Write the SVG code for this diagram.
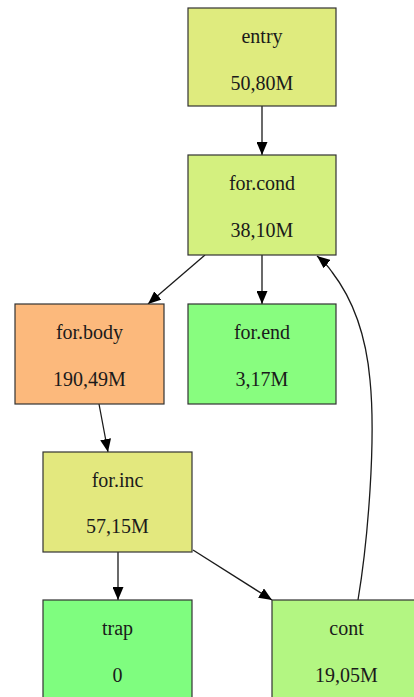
<svg xmlns="http://www.w3.org/2000/svg" width="414" height="697" viewBox="0 0 414 697">
  <style>
    .box { stroke: #333333; stroke-width: 1.2; }
    .lbl { font-family: "Liberation Serif", "Times New Roman", serif; font-size: 20px; fill: #1a1a1a; text-anchor: middle; }
    .edge { fill: none; stroke: #1a1a1a; stroke-width: 1.3; }
  </style>
  <defs>
    <marker id="arrow" markerUnits="userSpaceOnUse" markerWidth="13" markerHeight="11" refX="13" refY="5.5" orient="auto">
      <path d="M0,0 L13,5.5 L0,11 Z" fill="#000000"/>
    </marker>
  </defs>
  <rect width="414" height="697" fill="#ffffff"/>

  <g id="connectors">
    <line class="edge" x1="262" y1="106" x2="262" y2="155" marker-end="url(#arrow)"/>
    <line class="edge" x1="205" y1="255" x2="148" y2="304" marker-end="url(#arrow)"/>
    <line class="edge" x1="262" y1="255" x2="262" y2="304" marker-end="url(#arrow)"/>
    <line class="edge" x1="99" y1="404" x2="108" y2="452" marker-end="url(#arrow)"/>
    <line class="edge" x1="118" y1="552" x2="118" y2="600" marker-end="url(#arrow)"/>
    <line class="edge" x1="193" y1="550" x2="272" y2="600" marker-end="url(#arrow)"/>
    <path class="edge" d="M358,600 C368,540 376,440 370,380 C366,335 352,298 332,272 C328,266 322,260 317,256" marker-end="url(#arrow)"/>
  </g>

  <g id="entry">
    <rect class="box" x="188" y="8" width="148" height="98" fill="#dfeb7e"/>
    <text class="lbl" x="262" y="43">entry</text>
    <text class="lbl" x="262" y="90">50,80M</text>
  </g>

  <g id="for.cond">
    <rect class="box" x="188" y="155" width="148" height="100" fill="#d4f07f"/>
    <text class="lbl" x="262" y="190">for.cond</text>
    <text class="lbl" x="262" y="237">38,10M</text>
  </g>

  <g id="for.body">
    <rect class="box" x="15" y="304" width="149" height="100" fill="#fcb97c"/>
    <text class="lbl" x="89.5" y="339">for.body</text>
    <text class="lbl" x="89.5" y="386">190,49M</text>
  </g>

  <g id="for.end">
    <rect class="box" x="188" y="304" width="148" height="100" fill="#88fd7f"/>
    <text class="lbl" x="262" y="339">for.end</text>
    <text class="lbl" x="262" y="386">3,17M</text>
  </g>

  <g id="for.inc">
    <rect class="box" x="43" y="452" width="149" height="100" fill="#e3e87e"/>
    <text class="lbl" x="117.5" y="487">for.inc</text>
    <text class="lbl" x="117.5" y="533">57,15M</text>
  </g>

  <g id="trap">
    <rect class="box" x="43" y="600" width="149" height="100" fill="#7ffd7f"/>
    <text class="lbl" x="117.5" y="635">trap</text>
    <text class="lbl" x="117.5" y="682">0</text>
  </g>

  <g id="cont">
    <rect class="box" x="272" y="600" width="149" height="100" fill="#b3f682"/>
    <text class="lbl" x="346.5" y="635">cont</text>
    <text class="lbl" x="346.5" y="682">19,05M</text>
  </g>
</svg>
